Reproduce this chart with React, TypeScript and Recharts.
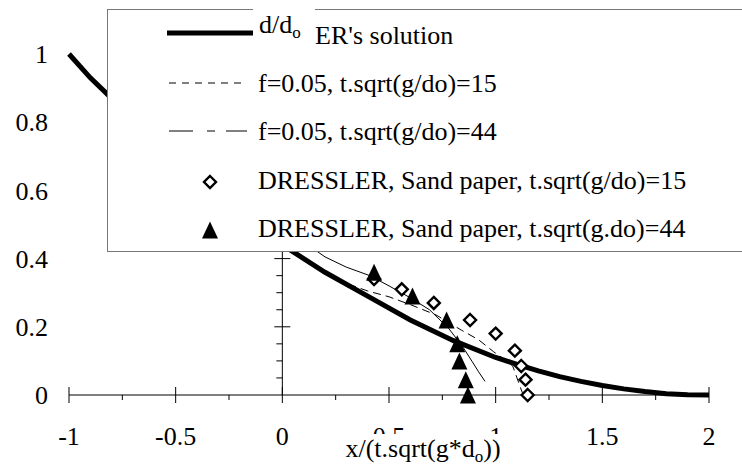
import React from 'react';
import { ComposedChart, Line, Scatter, XAxis, YAxis, ReferenceLine, Legend } from 'recharts';

const serif = '"Liberation Serif", "Times New Roman", serif';

// DRESSLER's solution (thick line)
const solutionX = [-1, -0.9, -0.8, -0.6, -0.4, -0.2, 0, 0.2, 0.4, 0.6, 0.8, 1.0, 1.1, 1.2, 1.3, 1.4, 1.5, 1.6, 1.7, 1.8, 1.9, 2.0];
const solutionY = [1.0, 0.93, 0.87, 0.75, 0.64, 0.54, 0.44, 0.36, 0.29, 0.22, 0.16, 0.11, 0.09, 0.071, 0.054, 0.04, 0.028, 0.018, 0.01, 0.004, 0.001, 0];

// f=0.05, t.sqrt(g/do)=15
const model15X = [0.31, 0.4, 0.5, 0.6, 0.72, 0.84, 0.92, 0.99, 1.04, 1.08, 1.1, 1.12, 1.13];
const model15Y = [0.325, 0.305, 0.288, 0.265, 0.235, 0.19, 0.162, 0.127, 0.105, 0.085, 0.05, 0.015, 0];

// f=0.05, t.sqrt(g/do)=44
const model44X = [0.12, 0.2, 0.3, 0.41, 0.5, 0.6, 0.69, 0.78, 0.845, 0.89, 0.92, 0.95];
const model44Y = [0.44, 0.405, 0.375, 0.35, 0.32, 0.285, 0.25, 0.195, 0.142, 0.098, 0.068, 0.04];

// DRESSLER sand paper measurements
const sand15X = [0.43, 0.56, 0.71, 0.88, 1.0, 1.09, 1.12, 1.14, 1.15];
const sand15Y = [0.34, 0.31, 0.27, 0.22, 0.18, 0.13, 0.085, 0.045, 0.0];
const sand44X = [0.43, 0.61, 0.77, 0.82, 0.83, 0.86, 0.87];
const sand44Y = [0.36, 0.29, 0.22, 0.15, 0.1, 0.045, 0.0];

const xMajorTicks = [-1, -0.5, 0, 0.5, 1, 1.5, 2];
const xMinorTicks = [-0.75, -0.25, 0.25, 0.75, 1.25, 1.75];
const yMajorTicks = [0, 0.2, 0.4, 0.6, 0.8, 1];
const yMinorTicks = [0.05, 0.1, 0.15, 0.25, 0.3, 0.35, 0.45, 0.5, 0.55, 0.65, 0.7, 0.75, 0.85, 0.9, 0.95];

const legendLabels = [
  "ER's solution",
  'f=0.05, t.sqrt(g/do)=15',
  'f=0.05, t.sqrt(g/do)=44',
  'DRESSLER, Sand paper, t.sqrt(g/do)=15',
  'DRESSLER, Sand paper, t.sqrt(g.do)=44',
];

const toPoints = (xs: number[], ys: number[]) => xs.map((x, i) => ({ x, y: ys[i] }));

const solution = toPoints(solutionX, solutionY);
const model15 = toPoints(model15X, model15Y);
const model44 = toPoints(model44X, model44Y);
const sand15 = toPoints(sand15X, sand15Y);
const sand44 = toPoints(sand44X, sand44Y);

const xTicks = [...xMajorTicks, ...xMinorTicks].sort((a, b) => a - b);

const diamondPath = (cx: number, cy: number, r: number) =>
  `M${cx},${cy - r}L${cx + r},${cy}L${cx},${cy + r}L${cx - r},${cy}Z`;
const trianglePath = (cx: number, cy: number) =>
  `M${cx},${cy - 8.5}L${cx + 8},${cy + 8.5}L${cx - 8},${cy + 8.5}Z`;

const DiamondShape = (p: any) => (
  <path d={diamondPath(p.cx, p.cy, 6)} fill="#fff" stroke="#000" strokeWidth={2.4} />
);
const TriangleShape = (p: any) => <path d={trianglePath(p.cx, p.cy)} fill="#000" />;

const XTick = (props: any) => {
  const { x, y, payload } = props;
  const major = xMajorTicks.includes(payload.value);
  if (!major) return <line x1={x} x2={x} y1={y} y2={y + 5} stroke="#000" />;
  return (
    <g>
      <line x1={x} x2={x} y1={y - 8} y2={y + 8} stroke="#000" />
      <text x={x} y={y + 50} textAnchor="middle" fontSize={26} fontFamily={serif} fill="#000">
        {String(payload.value)}
      </text>
    </g>
  );
};

// axis title sits on a white box over the chart, as in the original
const XTitle = () => (
  <svg
    width={742}
    height={468}
    style={{ position: 'absolute', left: 0, top: 0, pointerEvents: 'none', fontFamily: serif }}
  >
    <rect x={339} y={434} width={168} height={34} fill="#fff" />
    <text x={423} y={457} textAnchor="middle" fontSize={26} fill="#000">
      x/(t.sqrt(g*d<tspan fontSize={17} dy={5}>o</tspan>
      <tspan dy={-5}>))</tspan>
    </text>
  </svg>
);

const LegendBox = () => (
  <svg width={635} height={256} style={{ display: 'block', fontFamily: serif }}>
    <rect x={0.5} y={9.5} width={700} height={242} fill="#fff" stroke="#777" />
    <line x1={60} x2={146} y1={33} y2={33} stroke="#000" strokeWidth={5} />
    <text x={208} y={44} fontSize={26} fill="#000">{legendLabels[0]}</text>

    <line x1={62} x2={138} y1={83} y2={83} stroke="#000" strokeDasharray="7 6" />
    <text x={151} y={92} fontSize={26} fill="#000">{legendLabels[1]}</text>

    <line x1={62} x2={86} y1={131} y2={131} stroke="#000" />
    <line x1={100} x2={108} y1={131} y2={131} stroke="#000" />
    <line x1={119} x2={140} y1={131} y2={131} stroke="#000" />
    <text x={151} y={140} fontSize={26} fill="#000">{legendLabels[2]}</text>

    <path d={diamondPath(103, 182, 6)} fill="#fff" stroke="#000" strokeWidth={2.4} />
    <text x={151} y={189} fontSize={26} fill="#000">{legendLabels[3]}</text>

    <path d={trianglePath(103, 230)} fill="#000" />
    <text x={151} y={237} fontSize={26} fill="#000">{legendLabels[4]}</text>

    <rect x={146} y={0} width={62} height={50} fill="#fff" />
    <text x={152} y={33} fontSize={26} fill="#000">
      d/d<tspan fontSize={17} dy={5}>o</tspan>
    </text>
  </svg>
);

const App: React.FC = () => {
  const tickFont = { fill: '#000', fontSize: 26, fontFamily: serif };
  return (
    <div style={{ position: 'absolute', left: 0, top: 0, width: 742, height: 468, overflow: 'hidden', background: '#fff' }}>
      <ComposedChart width={742} height={468} margin={{ top: 54, right: 33, bottom: 13, left: 9 }}>
        <XAxis
          type="number"
          dataKey="x"
          domain={[-1, 2]}
          ticks={xTicks}
          interval={0}
          height={60}
          tickSize={0}
          tickMargin={0}
          tickLine={false}
          axisLine={{ stroke: '#000' }}
          tick={<XTick />}
        />
        <YAxis
          type="number"
          domain={[0, 1]}
          ticks={yMajorTicks}
          width={60}
          axisLine={false}
          tickLine={false}
          tickSize={8}
          tickMargin={13}
          tick={tickFont}
        />
        <ReferenceLine x={0} stroke="#000" />
        {yMajorTicks.filter((v) => v > 0).map((v) => (
          <ReferenceLine key={`ym${v}`} segment={[{ x: -0.0375, y: v }, { x: 0.0375, y: v }]} stroke="#000" />
        ))}
        {yMinorTicks.map((v) => (
          <ReferenceLine key={`yn${v}`} segment={[{ x: -0.028, y: v }, { x: 0, y: v }]} stroke="#000" />
        ))}
        <Line data={solution} dataKey="y" type="linear" stroke="#000" strokeWidth={5} dot={false} isAnimationActive={false} />
        <Line data={model15} dataKey="y" type="linear" stroke="#000" strokeWidth={1} strokeDasharray="8 5" dot={false} isAnimationActive={false} />
        <Line data={model44} dataKey="y" type="linear" stroke="#000" strokeWidth={1} dot={false} isAnimationActive={false} />
        <Scatter data={sand15} dataKey="y" shape={DiamondShape} isAnimationActive={false} />
        <Scatter data={sand44} dataKey="y" shape={TriangleShape} isAnimationActive={false} />
        <Legend
          layout="vertical"
          align="center"
          verticalAlign="middle"
          content={() => <LegendBox />}
          wrapperStyle={{ position: 'absolute', left: 107, top: 0, width: 635, height: 256 }}
        />
      </ComposedChart>
      <XTitle />
    </div>
  );
};

export default App;
